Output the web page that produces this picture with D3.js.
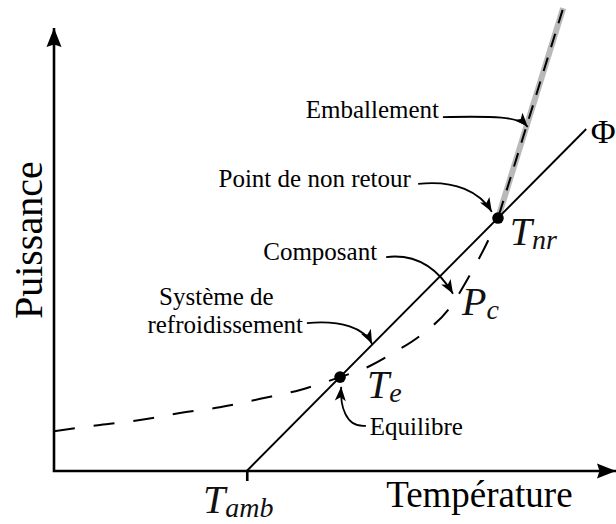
<!DOCTYPE html>
<html>
<head>
<meta charset="utf-8">
<script src="https://cdn.jsdelivr.net/npm/d3@7"></script>
<style>
  html, body { margin: 0; padding: 0; background: #fff; }
  svg { display: block; }
</style>
</head>
<body>
<svg id="chart" width="616" height="524"></svg>
<script>
// ---- Data (arbitrary temperature / power units) ----
const tempExtent = [0, 100];
const powerExtent = [0, 100];
const ambientTemp = 34.3;

// Cooling system capacity Φ (straight line from T_amb)
const coolingTemp = [34.3, 94.7];
const coolingPower = [0, 77.2];

// Power dissipated by the component, P_c
const componentTemp  = [0, 8.2, 15.3, 22.4, 29.5, 36.7, 43.8, 50.9, 56.2, 60.7, 65.1, 70.5, 74.2, 77.6, 79.0];
const componentPower = [9.0, 10.4, 11.5, 13.1, 14.4, 16.3, 18.3, 21.2, 23.7, 26.9, 30.5, 37.0, 44.7, 53.0, 57.1];

// Thermal runaway branch beyond the point of no return
const runawayTemp  = [79.0, 90.6];
const runawayPower = [57.1, 104.5];

// Equilibrium and point of no return
const markerTemp  = [50.9, 79.0];
const markerPower = [21.2, 57.1];

// ---- Scales ----
const svg = d3.select("#chart");
const x = d3.scaleLinear().domain(tempExtent).range([54, 616]);
const y = d3.scaleLinear().domain(powerExtent).range([471, 28]);
const pt = ([t, p]) => [x(t), y(p)];

const serif = "'Liberation Serif', 'Times New Roman', serif";

// ---- Arrowheads ----
const defs = svg.append("defs");
defs.append("marker")
  .attr("id", "axisHead")
  .attr("viewBox", "-21 -9 22 18")
  .attr("refX", 0).attr("refY", 0)
  .attr("markerWidth", 22).attr("markerHeight", 18)
  .attr("markerUnits", "userSpaceOnUse")
  .attr("orient", "auto-start-reverse")
  .append("path")
  .attr("d", "M0,0 L-19,-7.5 L-16.5,0 L-19,7.5 Z")
  .attr("fill", "#000");

defs.append("marker")
  .attr("id", "calloutHead")
  .attr("viewBox", "-15 -7 16 14")
  .attr("refX", 0).attr("refY", 0)
  .attr("markerWidth", 16).attr("markerHeight", 14)
  .attr("markerUnits", "userSpaceOnUse")
  .attr("orient", "auto")
  .append("path")
  .attr("d", "M0,0 L-14,-5.5 L-10.5,0 L-14,5.5 Z")
  .attr("fill", "#000");

const line = d3.line().x(d => x(d[0])).y(d => y(d[1]));
const zip = (a, b) => a.map((v, i) => [v, b[i]]);

// ---- Axes ----
svg.append("path")
  .attr("d", line([[tempExtent[0], powerExtent[1]], [tempExtent[0], powerExtent[0]], [tempExtent[1], powerExtent[0]]]))
  .attr("fill", "none")
  .attr("stroke", "#000")
  .attr("stroke-width", 2.6)
  .attr("stroke-linejoin", "miter")
  .attr("marker-start", "url(#axisHead)")
  .attr("marker-end", "url(#axisHead)");

const xAxis = svg.append("g")
  .attr("transform", `translate(0,${y(0)})`)
  .call(d3.axisBottom(x).tickValues([ambientTemp]).tickSize(10).tickFormat(""));
xAxis.select(".domain").remove();
xAxis.selectAll(".tick line").attr("stroke", "#000").attr("stroke-width", 2.6);

// ---- Curves ----
// runaway band (grey) under the dashed branch
svg.append("path")
  .attr("d", line(zip(runawayTemp, runawayPower)))
  .attr("fill", "none")
  .attr("stroke", "#b9b9b9")
  .attr("stroke-width", 6);

// cooling line Φ
svg.append("path")
  .attr("d", line(zip(coolingTemp, coolingPower)))
  .attr("fill", "none")
  .attr("stroke", "#000")
  .attr("stroke-width", 1.9);

// component power P_c
svg.append("path")
  .attr("d", line.curve(d3.curveMonotoneX)(zip(componentTemp, componentPower)))
  .attr("fill", "none")
  .attr("stroke", "#000")
  .attr("stroke-width", 2)
  .attr("stroke-dasharray", "21,19");
line.curve(d3.curveLinear);

svg.append("path")
  .attr("d", line(zip(runawayTemp, runawayPower)))
  .attr("fill", "none")
  .attr("stroke", "#000")
  .attr("stroke-width", 2)
  .attr("stroke-dasharray", "14,11")
  .attr("stroke-dashoffset", -4);

// equilibrium / no-return dots
svg.selectAll("circle.pt")
  .data(zip(markerTemp, markerPower))
  .join("circle")
  .attr("class", "pt")
  .attr("cx", d => x(d[0]))
  .attr("cy", d => y(d[1]))
  .attr("r", 5.8)
  .attr("fill", "#000");

// ---- Callouts ----
const callouts = [
  { lines: [{ text: "Emballement", at: [68.5, 79.7], anchor: "end" }],
    arrow: [[69.2, 79.9], [78.5, 80.1], [82.6, 80.1], [84.3, 77.7]] },
  { lines: [{ text: "Point de non retour", at: [63.5, 64.1], anchor: "end" }],
    arrow: [[64.8, 64.8], [71.4, 65.7], [75.8, 63.0], [77.9, 58.5]] },
  { lines: [{ text: "Composant", at: [57.5, 47.6], anchor: "end" }],
    arrow: [[59.1, 48.3], [65.1, 49.2], [68.7, 44.9], [71.0, 40.0]] },
  { lines: [{ text: "Système de", at: [18.7, 37.5], anchor: "start" },
            { text: "refroidissement", at: [44.3, 31.2], anchor: "end" }],
    arrow: [[45.0, 33.4], [51.2, 34.1], [55.2, 32.3], [56.6, 28.7]] },
  { lines: [{ text: "Equilibre", at: [56.2, 8.1], anchor: "start" }],
    arrow: [[55.5, 10.2], [51.8, 9.7], [50.9, 14.9], [51.1, 19.0]] }
];

callouts.forEach(c => {
  const [s, c1, c2, e] = c.arrow.map(pt);
  const p = d3.path();
  p.moveTo(s[0], s[1]);
  p.bezierCurveTo(c1[0], c1[1], c2[0], c2[1], e[0], e[1]);
  svg.append("path")
    .attr("d", p.toString())
    .attr("fill", "none")
    .attr("stroke", "#000")
    .attr("stroke-width", 1.8)
    .attr("marker-end", "url(#calloutHead)");
  c.lines.forEach(l => {
    svg.append("text")
      .attr("x", x(l.at[0]))
      .attr("y", y(l.at[1]))
      .attr("text-anchor", l.anchor)
      .attr("font-family", serif)
      .attr("font-size", 25)
      .attr("fill", "#000")
      .text(l.text);
  });
});

// ---- Math labels ----
const mathLabels = [
  { base: "T", sub: "amb", at: [26.5, -9.5] },
  { base: "T", sub: "e",   at: [55.7, 16.5] },
  { base: "T", sub: "nr",  at: [81.1, 51.0] },
  { base: "P", sub: "c",   at: [72.6, 35.2] }
];
mathLabels.forEach(m => {
  const t = svg.append("text")
    .attr("x", x(m.at[0]))
    .attr("y", y(m.at[1]))
    .attr("font-family", serif)
    .attr("font-style", "italic")
    .attr("fill", "#111");
  t.append("tspan").attr("font-size", 40).text(m.base);
  t.append("tspan").attr("font-size", 28).attr("dy", 4).text(m.sub);
});

svg.append("text")
  .attr("x", x(95.5))
  .attr("y", y(74.0))
  .attr("font-family", serif)
  .attr("font-size", 34)
  .attr("fill", "#000")
  .text("Φ");

// ---- Axis titles ----
svg.append("text")
  .attr("x", x(59.1))
  .attr("y", y(-8.1))
  .attr("font-family", serif)
  .attr("font-size", 37)
  .attr("fill", "#000")
  .text("Température");

svg.append("text")
  .attr("transform", `translate(${x(-2.1)},${y(52.1)}) rotate(-90)`)
  .attr("text-anchor", "middle")
  .attr("font-family", serif)
  .attr("font-size", 40)
  .attr("fill", "#000")
  .text("Puissance");
</script>
</body>
</html>
